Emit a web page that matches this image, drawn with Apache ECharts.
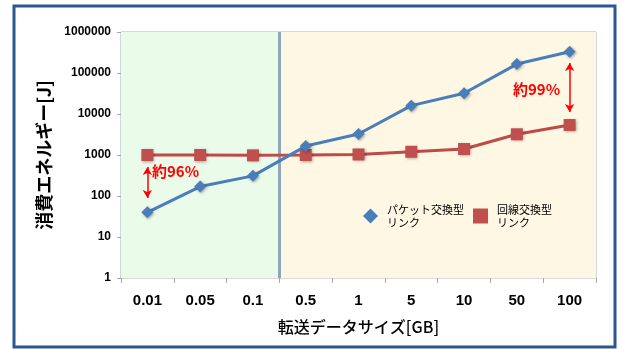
<!DOCTYPE html>
<html>
<head>
<meta charset="utf-8">
<script src="https://cdn.jsdelivr.net/npm/echarts@6/dist/echarts.min.js"></script>
<style>
html,body{margin:0;padding:0;background:#fff;}
#c{width:622px;height:349px;}
</style>
</head>
<body>
<div id="c"></div>
<script>
const categories = ['0.01','0.05','0.1','0.5','1','5','10','50','100'];
const packetValues = [40, 170, 310, 1650, 3250, 16000, 32000, 165000, 330000];
const circuitValues = [1000, 1000, 980, 1000, 1030, 1200, 1400, 3200, 5400];
const packetName = 'パケット交換型リンク';
const circuitName = '回線交換型リンク';
const yTitle = '消費エネルギー[J]';
const xTitle = '転送データサイズ[GB]';
const note1 = '約96%';
const note2 = '約99%';
const arrow1 = [['0.01', 510], ['0.01', 89]];
const arrow2 = [['100', 175000], ['100', 11200]];

const green = '#ebfbea', yellow = '#fdf7e4';
const areaColors = [green, green, green, yellow, yellow, yellow, yellow, yellow, yellow];
const clear = 'rgba(0,0,0,0)';
const divColors = [clear, clear, clear, '#8ea6ba', clear, clear, clear, clear, clear, clear];

const chart = echarts.init(document.getElementById('c'), null, {renderer:'canvas'});
const numFont = 'Liberation Sans, Arial, sans-serif';
const jpFont = '"Noto Sans CJK JP", sans-serif';
const shadow = {shadowBlur: 3, shadowColor: 'rgba(0,0,0,0.35)', shadowOffsetX: 1, shadowOffsetY: 1};

chart.setOption({
  animation: false,
  backgroundColor: '#fff',
  grid: {left: 121, right: 26, top: 32, bottom: 71, show: true, borderColor: '#9db3cb', borderWidth: 1, backgroundColor: 'transparent'},
  legend: {
    left: 358, top: 198, orient: 'horizontal',
    itemWidth: 15, itemHeight: 15, itemGap: 9,
    data: [{name: packetName, icon: 'diamond'}, {name: circuitName, icon: 'rect'}],
    formatter: n => n.replace('リンク', '\nリンク'),
    textStyle: {fontFamily: jpFont, fontSize: 11, lineHeight: 13, color: '#000', padding: [0,0,0,4]}
  },
  xAxis: {
    type: 'category', data: categories, boundaryGap: true,
    name: xTitle, nameLocation: 'middle', nameGap: 41,
    nameTextStyle: {fontFamily: jpFont, fontSize: 16, fontWeight: 500, color: '#000'},
    axisLine: {show: false},
    axisTick: {show: true, length: 5, lineStyle: {color: '#a6a6a6'}},
    axisLabel: {margin: 15, fontFamily: numFont, fontSize: 15, fontWeight: 'bold', color: '#000'},
    splitArea: {show: true, areaStyle: {color: areaColors}},
    splitLine: {show: true, lineStyle: {color: divColors, width: 3}}
  },
  yAxis: {
    type: 'log', logBase: 10, min: 1, max: 1000000,
    name: yTitle, nameLocation: 'middle', nameGap: 63, nameRotate: 90,
    nameTextStyle: {fontFamily: jpFont, fontSize: 18, fontWeight: 'bold', color: '#000'},
    axisLine: {show: false},
    axisTick: {show: true, length: 4, lineStyle: {color: '#a6a6a6'}},
    axisLabel: {margin: 10, fontFamily: numFont, fontSize: 12, fontWeight: 'bold', color: '#000',
      formatter: v => String(Math.round(v))},
    splitLine: {show: true, lineStyle: {color: '#d9d9d9', width: 1}}
  },
  series: [
    {
      name: packetName, type: 'line', data: packetValues,
      symbol: 'diamond', symbolSize: 12,
      itemStyle: Object.assign({color: '#4a7ebb'}, shadow),
      lineStyle: {color: '#4a7ebb', width: 3},
      z: 3
    },
    {
      name: circuitName, type: 'line', data: circuitValues,
      symbol: 'rect', symbolSize: 12,
      itemStyle: Object.assign({color: '#c0504d'}, shadow),
      lineStyle: {color: '#be4b48', width: 3},
      z: 2,
      markLine: {
        silent: true, animation: false,
        symbol: ['arrow', 'arrow'], symbolSize: [7, 8],
        lineStyle: {color: '#ff0000', width: 1.5, type: 'solid'},
        label: {show: false},
        data: [
          [{coord: arrow1[0]}, {coord: arrow1[1]}],
          [{coord: arrow2[0]}, {coord: arrow2[1]}]
        ]
      }
    }
  ],
  graphic: [
    {type: 'rect', shape: {x: 14, y: 6, width: 601, height: 341}, style: {fill: null, stroke: '#2b5791', lineWidth: 3}, silent: true, z: 100},
    {type: 'text', left: 152, top: 164, style: {text: note1, fill: '#ff0000', font: 'bold 15px "Noto Sans CJK JP", sans-serif'}, z: 100},
    {type: 'text', left: 513, top: 82, style: {text: note2, fill: '#ff0000', font: 'bold 15px "Noto Sans CJK JP", sans-serif'}, z: 100}
  ]
});
</script>
</body>
</html>
